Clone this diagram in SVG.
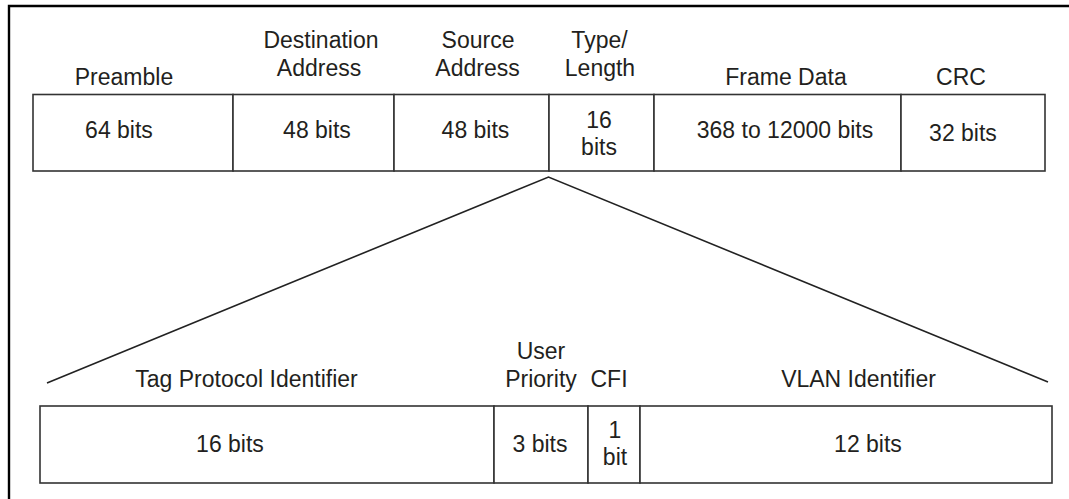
<svg xmlns="http://www.w3.org/2000/svg" width="1069" height="499" viewBox="0 0 1069 499">
<style>
text{font-family:"Liberation Sans",Arial,sans-serif;font-size:23px;fill:#231f20;text-anchor:middle}
.box{fill:#fff;stroke:#333;stroke-width:1.6}
.ln{fill:none;stroke:#222;stroke-width:1.6}
</style>
<rect width="1069" height="499" fill="#fff"/>
<path d="M9,499 V6 H1069" fill="none" stroke="#000" stroke-width="2.4"/>
<g id="connectors">
<path class="ln" d="M47,383 L548.5,177 L1048,382"/>
</g>
<g id="preamble"><text x="124" y="85">Preamble</text><rect class="box" x="33" y="94.5" width="200" height="76.5"/><text x="119" y="138">64 bits</text></g>
<g id="dest"><text x="321" y="48">Destination</text><text x="319" y="76">Address</text><rect class="box" x="233" y="94.5" width="161" height="76.5"/><text x="317" y="138">48 bits</text></g>
<g id="src"><text x="478" y="48">Source</text><text x="477.5" y="76">Address</text><rect class="box" x="394" y="94.5" width="155" height="76.5"/><text x="475.5" y="138">48 bits</text></g>
<g id="type"><text x="599.5" y="48">Type/</text><text x="600" y="76">Length</text><rect class="box" x="549" y="94.5" width="105" height="76.5"/><text x="599" y="128">16</text><text x="599" y="155">bits</text></g>
<g id="data"><text x="786" y="85">Frame Data</text><rect class="box" x="654" y="94.5" width="247" height="76.5"/><text x="785" y="138">368 to 12000 bits</text></g>
<g id="crc"><text x="961" y="85">CRC</text><rect class="box" x="901" y="94.5" width="144" height="76.5"/><text x="963" y="141">32 bits</text></g>
<g id="tpid"><text x="246.5" y="387">Tag Protocol Identifier</text><rect class="box" x="40" y="406" width="454" height="77"/><text x="230" y="452">16 bits</text></g>
<g id="prio"><text x="541" y="359">User</text><text x="541" y="387">Priority</text><rect class="box" x="494" y="406" width="94" height="77"/><text x="540" y="452">3 bits</text></g>
<g id="cfi"><text x="609" y="387">CFI</text><rect class="box" x="588" y="406" width="52" height="77"/><text x="615" y="438">1</text><text x="615" y="465">bit</text></g>
<g id="vlan"><text x="858.5" y="387">VLAN Identifier</text><rect class="box" x="640" y="406" width="412" height="77"/><text x="868" y="452">12 bits</text></g>
</svg>
